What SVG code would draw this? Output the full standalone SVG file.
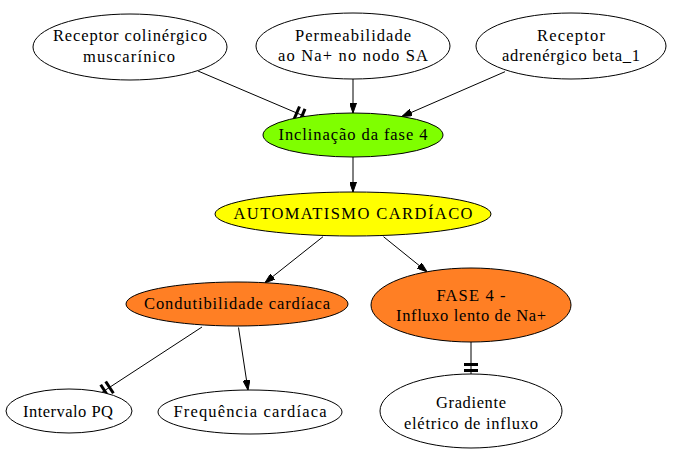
<svg xmlns="http://www.w3.org/2000/svg" width="673" height="456" viewBox="0 0 673 456">
<style>
  .n ellipse { stroke: #000; stroke-width: 1; }
  .w { fill: #fff; }
  .g { fill: #7fff00; }
  .y { fill: #ffff00; }
  .o { fill: #ff7f24; }
  .e line { stroke: #000; stroke-width: 1; fill: none; }
  .e line.a { marker-end: url(#arr); }
  .e line.t { stroke-width: 3; }
</style>
<defs>
  <marker id="arr" markerUnits="userSpaceOnUse" markerWidth="10" markerHeight="7" refX="10" refY="3.5" orient="auto">
    <path d="M0,0 L10,3.5 L0,7 z" fill="#000" stroke="#000" stroke-width="1"/>
  </marker>
</defs>
<rect width="673" height="456" fill="#fff"/>
<g id="edges" class="e">
  <line x1="198" y1="71" x2="305" y2="116.5"/>
  <line class="t" x1="299.5" y1="121.8" x2="305" y2="108.9"/>
  <line class="t" x1="294" y1="119.4" x2="299.5" y2="106.5"/>
  <line class="a" x1="353" y1="79" x2="353" y2="113"/>
  <line class="a" x1="505" y1="71.7" x2="402" y2="116.5"/>
  <line class="a" x1="353" y1="157" x2="353" y2="192"/>
  <line class="a" x1="323" y1="236.7" x2="265" y2="282.7"/>
  <line class="a" x1="383.5" y1="236.7" x2="427" y2="271.8"/>
  <line x1="202" y1="327" x2="102" y2="392.3"/>
  <line class="t" x1="100.7" y1="384.8" x2="108.3" y2="396.5"/>
  <line class="t" x1="105.7" y1="381.5" x2="113.4" y2="393.2"/>
  <line class="a" x1="238.5" y1="327.5" x2="248" y2="390"/>
  <line x1="471" y1="342" x2="471" y2="374"/>
  <line class="t" x1="464" y1="370.5" x2="478" y2="370.5"/>
  <line class="t" x1="464" y1="364.5" x2="478" y2="364.5"/>
</g>
<g font-family="Liberation Serif, Times New Roman, serif" font-size="16.5" text-anchor="middle" fill="#000">
<g id="n1" class="n"><ellipse class="w" cx="130" cy="47" rx="97" ry="33"/><text x="130" y="41" textLength="154" lengthAdjust="spacing">Receptor colinérgico</text><text x="129" y="62" textLength="92" lengthAdjust="spacing">muscarínico</text></g>
<g id="n2" class="n"><ellipse class="w" cx="353" cy="46" rx="97" ry="33"/><text x="353" y="41" textLength="116" lengthAdjust="spacing">Permeabilidade</text><text x="353" y="61" textLength="150" lengthAdjust="spacing">ao Na+ no nodo SA</text></g>
<g id="n3" class="n"><ellipse class="w" cx="571" cy="46" rx="95" ry="33"/><text x="571" y="41" textLength="68" lengthAdjust="spacing">Receptor</text><text x="571" y="61" textLength="138" lengthAdjust="spacing">adrenérgico beta_1</text></g>
<g id="n4" class="n"><ellipse class="g" cx="353" cy="135" rx="90" ry="22"/><text x="353" y="140" textLength="149" lengthAdjust="spacing">Inclinação da fase 4</text></g>
<g id="n5" class="n"><ellipse class="y" cx="353" cy="214" rx="138" ry="22"/><text x="353" y="219" textLength="239" lengthAdjust="spacing">AUTOMATISMO CARDÍACO</text></g>
<g id="n6" class="n"><ellipse class="o" cx="237" cy="304" rx="111" ry="22"/><text x="237" y="309" textLength="186" lengthAdjust="spacing">Condutibilidade cardíaca</text></g>
<g id="n7" class="n"><ellipse class="o" cx="471" cy="305" rx="100" ry="37"/><text x="471" y="301" textLength="69" lengthAdjust="spacing">FASE 4 -</text><text x="471" y="321" textLength="150" lengthAdjust="spacing">Influxo lento de Na+</text></g>
<g id="n8" class="n"><ellipse class="w" cx="69" cy="411" rx="63" ry="22"/><text x="68" y="417" textLength="90" lengthAdjust="spacing">Intervalo PQ</text></g>
<g id="n9" class="n"><ellipse class="w" cx="250" cy="412" rx="92" ry="22"/><text x="250" y="417" textLength="153" lengthAdjust="spacing">Frequência cardíaca</text></g>
<g id="n10" class="n"><ellipse class="w" cx="471" cy="411" rx="91" ry="37"/><text x="471" y="408" textLength="70" lengthAdjust="spacing">Gradiente</text><text x="471" y="429" textLength="134" lengthAdjust="spacing">elétrico de influxo</text></g>
</g>
</svg>
